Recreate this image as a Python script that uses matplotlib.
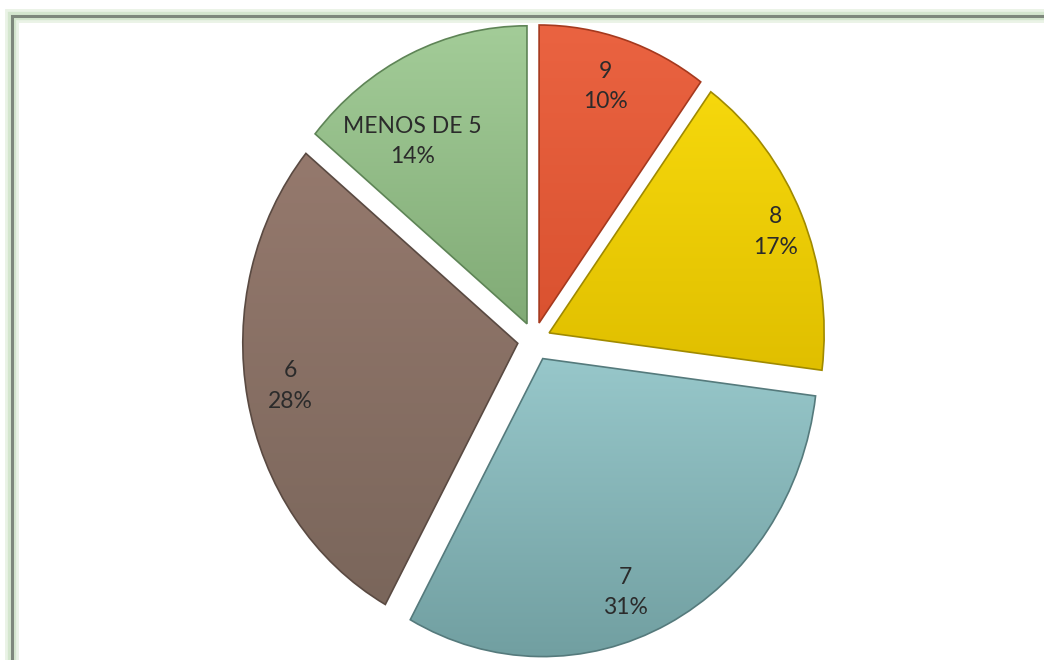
import numpy as np
import matplotlib.pyplot as plt
from matplotlib.colors import LinearSegmentedColormap
from matplotlib.patches import Rectangle

labels = ['9', '8', '7', '6', 'MENOS DE 5']
values = [10, 17, 31, 28, 14]

# light (top) / dark (bottom) fill for each slice
top_colors = ['#EA6341', '#F6D80C', '#97C7CA', '#95796D', '#A3CC98']
bottom_colors = ['#DA5230', '#E0BF00', '#719FA1', '#7A665B', '#81AB76']
edge_colors = ['#A5391E', '#A08A00', '#557A7C', '#5A4A42', '#5E8456']
explode = [0.06, 0.06, 0.07, 0.06, 0.06]

# label placement: distance from centre and angular nudge (degrees)
label_dist = [0.83, 0.89, 0.84, 0.84, 0.74]
label_nudge = [1, -1, -6, -1, 9]

fig = plt.figure(figsize=(10.44, 6.6), dpi=100)
fig.patch.set_facecolor('white')
ax = fig.add_axes([0, 0, 1, 1])

# chart frame with a soft green glow
for lw, col, a in [(10, '#DCEBD6', 0.6), (6, '#CFE3C8', 0.8), (2.2, '#7E887C', 1.0)]:
    fig.patches.append(Rectangle((12 / 1044, -0.05), 1.1, (660 - 16) / 660 + 0.05,
                                 transform=fig.transFigure, fill=False,
                                 edgecolor=col, linewidth=lw, alpha=a, zorder=0))

wedges, _ = ax.pie(values, startangle=90, counterclock=False, explode=explode,
                   radius=1, colors=top_colors,
                   wedgeprops=dict(linewidth=1.2))

grad = np.linspace(0, 1, 256).reshape(-1, 1)
for i, w in enumerate(wedges):
    w.set_edgecolor(edge_colors[i])
    w.set_zorder(3)
    w.set_facecolor('none')
    ext = w.get_path().get_extents()
    cmap = LinearSegmentedColormap.from_list('g%d' % i, [top_colors[i], bottom_colors[i]])
    im = ax.imshow(grad, cmap=cmap, extent=[ext.x0, ext.x1, ext.y0, ext.y1],
                   origin='upper', aspect='auto', zorder=2, interpolation='bilinear')
    im.set_clip_path(w)

    # label text
    mid = np.deg2rad((w.theta1 + w.theta2) / 2)
    cx, cy = w.center
    ang = mid + np.deg2rad(label_nudge[i])
    x = cx + label_dist[i] * np.cos(ang)
    y = cy + label_dist[i] * np.sin(ang)
    ax.text(x, y, '%s\n%d%%' % (labels[i], values[i]), ha='center', va='center',
            fontsize=16.5, family='Lato', color='#2B2B2B', linespacing=1.55, zorder=5)

# slightly taller-than-wide pie, centred left of the frame
rx, ry = 275, 298
cx_px, cy_px = 534, 340
ax.set_aspect('auto')
ax.set_xlim(-cx_px / rx, (1044 - cx_px) / rx)
ax.set_ylim(-(660 - cy_px) / ry, cy_px / ry)
ax.axis('off')

fig.savefig('out.png', dpi=100, facecolor='white')
